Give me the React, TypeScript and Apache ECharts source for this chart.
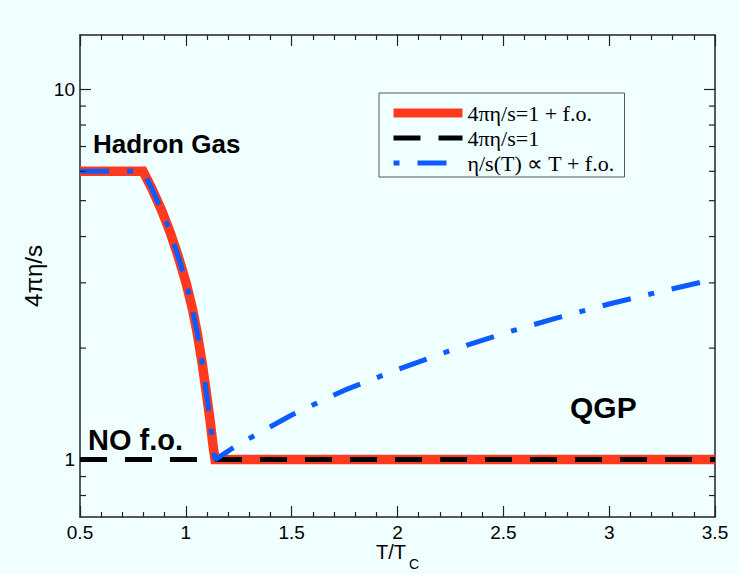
import React, { useEffect, useRef } from "react";
import * as echarts from "echarts";

// Temperature axis (T/Tc) and viscosity axis (4πη/s, log scale)
const T_MIN = 0.5;
const T_MAX = 3.5;
const T_STEP = 0.5;
const ETA_MIN = 0.7;
const ETA_MAX = 14;
const ETA_MAJOR = [1, 10];
const ETA_MINOR = [0.8, 0.9, 2, 3, 4, 5, 6, 7, 8, 9];

// Hadron-gas branch with freeze-out (shared by the red and blue curves)
const T_HADRON = [0.5, 0.798, 0.84, 0.887, 0.925, 0.963, 1.001, 1.029, 1.053, 1.076, 1.095, 1.114, 1.128, 1.138];
const ETA_HADRON = [6.0, 6.0, 5.38, 4.69, 4.12, 3.55, 3.0, 2.585, 2.21, 1.837, 1.544, 1.282, 1.098, 1.0];

// Constant 4πη/s = 1 in the QGP phase
const T_CONST = [1.138, 3.5];
const ETA_CONST = [1.0, 1.0];

// Without freeze-out: 4πη/s = 1 over the whole range
const T_NOFO = [0.5, 3.5];
const ETA_NOFO = [1.0, 1.0];

// η/s rising linearly with T in the QGP phase
const T_QGP = [1.25, 1.5, 1.75, 2.0, 2.25, 2.5, 2.75, 3.0, 3.25, 3.5];
const ETA_QGP = [1.1, 1.32, 1.54, 1.75, 1.97, 2.19, 2.41, 2.63, 2.85, 3.07];

const NAMES = ["4πη/s=1 + f.o.", "4πη/s=1", "η/s(T) ∝ T + f.o."];

const RED = "#FF3A1E";
const BLUE = "#0A5CFF";
const AXIS = "#222";
const SANS = "Liberation Sans";
const SERIF = "Liberation Serif";

const pairs = (xs: number[], ys: number[]) => xs.map((x, i) => [x, ys[i]]);

function buildOption() {
  const redData = pairs(T_HADRON, ETA_HADRON).concat(pairs(T_CONST, ETA_CONST).slice(1));
  const blackData = pairs(T_NOFO, ETA_NOFO);
  const blueData = pairs(T_HADRON, ETA_HADRON).concat(pairs(T_QGP, ETA_QGP));

  const xCommon = {
    type: "value",
    min: T_MIN,
    max: T_MAX,
    interval: T_STEP,
    axisLine: { show: true, onZero: false, lineStyle: { color: AXIS, width: 1.5 } },
    axisTick: { show: true, inside: true, length: 11, lineStyle: { color: AXIS, width: 1.2 } },
    minorTick: { show: true, splitNumber: 5, length: 5, lineStyle: { color: AXIS, width: 1.2 } },
    splitLine: { show: false },
    minorSplitLine: { show: false },
  };
  const yCommon = {
    type: "log",
    logBase: 10,
    min: ETA_MIN,
    max: ETA_MAX,
    axisLine: { show: true, onZero: false, lineStyle: { color: AXIS, width: 1.5 } },
    axisTick: { show: true, inside: true, length: 11, customValues: ETA_MAJOR, lineStyle: { color: AXIS, width: 1.2 } },
    splitLine: { show: false },
  };

  return {
    animation: false,
    backgroundColor: "#F0FFFF",
    grid: { left: 80, top: 35, right: 24, bottom: 57, containLabel: false },
    xAxis: [
      {
        ...xCommon,
        position: "bottom",
        axisLabel: { margin: 8, fontFamily: SANS, fontSize: 19, lineHeight: 14, color: "#000" },
      },
      { ...xCommon, position: "top", axisLabel: { show: false } },
    ],
    yAxis: [
      {
        ...yCommon,
        position: "left",
        axisLabel: {
          margin: 5,
          fontFamily: SANS,
          fontSize: 19,
          color: "#000",
          customValues: ETA_MAJOR,
        },
      },
      { ...yCommon, position: "right", axisLabel: { show: false } },
    ],
    legend: {
      orient: "vertical",
      left: 379,
      top: 93,
      padding: [9, 6, 3, 10],
      itemWidth: 69,
      itemHeight: 14,
      itemGap: 3,
      borderColor: "#555",
      borderWidth: 1,
      borderRadius: 0,
      selectedMode: false,
      textStyle: { fontFamily: SERIF, fontSize: 22, color: "#000", width: 151, lineHeight: 20 },
      data: [
        { name: NAMES[0], lineStyle: { width: 9 }, itemStyle: { opacity: 0 } },
        { name: NAMES[1], lineStyle: { width: 5 }, itemStyle: { opacity: 0 } },
        { name: NAMES[2], lineStyle: { width: 5, dashOffset: 47 }, itemStyle: { opacity: 0 } },
      ],
    },
    graphic: [
      {
        type: "text",
        left: 93,
        top: 131,
        style: { text: "Hadron Gas", fontFamily: SANS, fontWeight: "bold", fontSize: 26, fill: "#000" },
      },
      {
        type: "text",
        left: 88,
        top: 425,
        style: { text: "NO f.o.", fontFamily: SANS, fontWeight: "bold", fontSize: 29, fill: "#000" },
      },
      {
        type: "text",
        left: 570,
        top: 392,
        style: { text: "QGP", fontFamily: SANS, fontWeight: "bold", fontSize: 30, fill: "#000" },
      },
      {
        type: "text",
        x: 33,
        y: 276,
        rotation: Math.PI / 2,
        style: { text: "4πη/s", fontFamily: SANS, fontSize: 24, fill: "#000", align: "center", verticalAlign: "middle" },
      },
      {
        type: "text",
        left: 376,
        top: 542,
        style: { text: "T/T", fontFamily: SANS, fontSize: 20, lineHeight: 16, fill: "#000" },
      },
      {
        type: "text",
        left: 409,
        top: 557,
        style: { text: "C", fontFamily: SANS, fontSize: 14, lineHeight: 12, fill: "#000" },
      },
    ],
    series: [
      {
        name: NAMES[0],
        type: "line",
        data: redData,
        symbol: "none",
        z: 2,
        lineStyle: { color: RED, width: 9.5, cap: "butt", join: "miter" },
        itemStyle: { color: RED },
      },
      {
        name: NAMES[1],
        type: "line",
        data: blackData,
        symbol: "none",
        z: 3,
        lineStyle: { color: "#000", width: 5, type: [27, 18], cap: "butt" },
        itemStyle: { color: "#000" },
      },
      {
        name: NAMES[2],
        type: "line",
        data: blueData,
        symbol: "none",
        z: 4,
        lineStyle: { color: BLUE, width: 5, type: [29, 18, 6, 18], cap: "butt" },
        itemStyle: { color: BLUE },
      },
      {
        // minor ticks of the log axis, on both sides of the frame
        type: "custom",
        silent: true,
        clip: false,
        z: 10,
        xAxisIndex: 0,
        yAxisIndex: 0,
        data: ETA_MINOR.map((v) => [T_MIN, v]),
        renderItem: (_params: any, api: any) => {
          const v = api.value(1);
          const l = api.coord([T_MIN, v]);
          const r = api.coord([T_MAX, v]);
          const style = { stroke: AXIS, lineWidth: 1.2 };
          return {
            type: "group",
            children: [
              { type: "line", shape: { x1: l[0], y1: l[1], x2: l[0] + 6, y2: l[1] }, style },
              { type: "line", shape: { x1: r[0], y1: r[1], x2: r[0] - 6, y2: r[1] }, style },
            ],
          };
        },
      },
    ],
  };
}

export default function App() {
  const ref = useRef<HTMLDivElement>(null);
  useEffect(() => {
    if (!ref.current) return;
    const chart = echarts.init(ref.current, null, { renderer: "svg" });
    chart.setOption(buildOption() as any);
    return () => chart.dispose();
  }, []);
  return (
    <div style={{ position: "fixed", left: 0, top: 0, width: 739, height: 574, background: "#F0FFFF" }}>
      <div ref={ref} style={{ width: 739, height: 574 }} />
    </div>
  );
}
